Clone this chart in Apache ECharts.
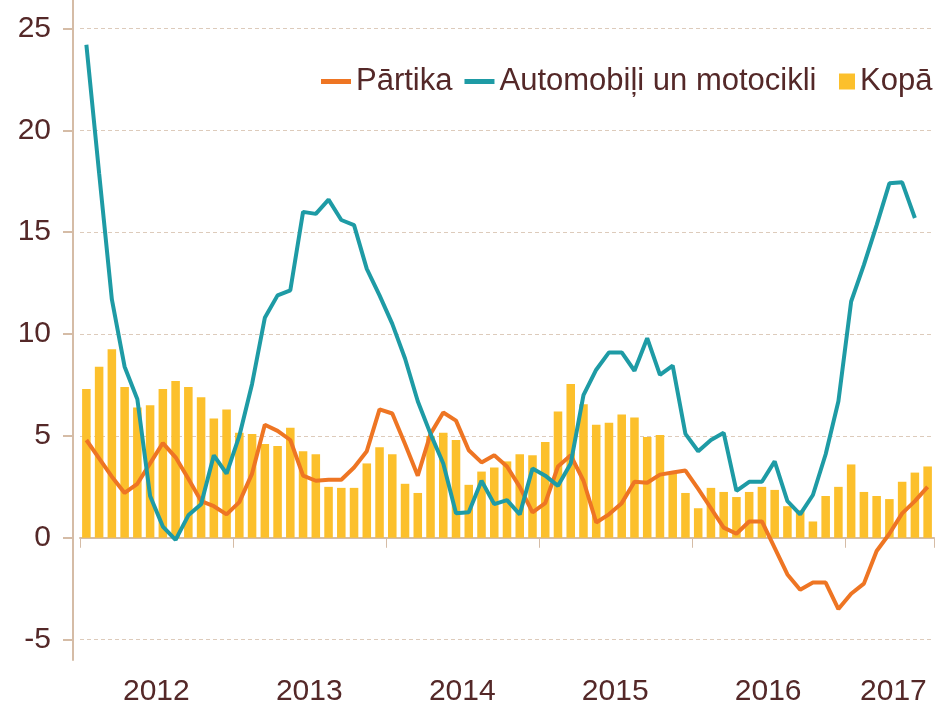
<!DOCTYPE html>
<html>
<head>
<meta charset="utf-8">
<script src="https://cdn.jsdelivr.net/npm/echarts@6/dist/echarts.min.js"></script>
<style>
  html, body { margin: 0; padding: 0; background: #ffffff; }
  #chart { width: 940px; height: 708px; }
</style>
</head>
<body>
<div id="chart"></div>
<script>
// Months Jan 2012 – Jul 2017
const years = [2012, 2013, 2014, 2015, 2016, 2017];
const categories = [];
years.forEach(function (y) {
  for (let m = 1; m <= 12; m++) {
    if (y === 2017 && m > 7) break;
    categories.push(y + '-' + (m < 10 ? '0' + m : m));
  }
});

const yTickValues = [-5, 0, 5, 10, 15, 20, 25];

// Kopā (bars)
const kopa = [7.3, 8.4, 9.25, 7.4, 6.4, 6.5, 7.3, 7.7, 7.4, 6.9,
  5.85, 6.3, 5.15, 5.1, 4.6, 4.5, 5.4, 4.25, 4.1, 2.5,
  2.45, 2.45, 3.65, 4.45, 4.1, 2.65, 2.2, 5.0, 5.15, 4.8,
  2.6, 3.25, 3.45, 3.75, 4.1, 4.05, 4.7, 6.2, 7.55, 6.55,
  5.55, 5.65, 6.05, 5.9, 4.95, 5.05, 3.2, 2.2, 1.45, 2.45,
  2.25, 2.0, 2.25, 2.5, 2.35, 1.55, 1.35, 0.8, 2.05, 2.5,
  3.6, 2.25, 2.05, 1.9, 2.75, 3.2, 3.5];

// Pārtika (orange line)
const partika = [4.8, 3.9, 3.0, 2.2, 2.65, 3.65, 4.65, 3.95, 2.9, 1.8,
  1.55, 1.15, 1.75, 3.15, 5.55, 5.25, 4.8, 3.05, 2.8, 2.85,
  2.85, 3.45, 4.25, 6.3, 6.1, 4.6, 3.05, 5.1, 6.15, 5.75,
  4.3, 3.7, 4.05, 3.5, 2.5, 1.25, 1.7, 3.5, 4.05, 2.8,
  0.75, 1.15, 1.7, 2.75, 2.7, 3.1, 3.2, 3.3, 2.4, 1.45,
  0.5, 0.2, 0.8, 0.8, -0.5, -1.8, -2.55, -2.2, -2.2, -3.5,
  -2.75, -2.25, -0.65, 0.2, 1.2, 1.8, 2.5];

// Automobiļi un motocikli (teal line), Jan 2012 – Jun 2017
const auto = [24.2, 17.9, 11.7, 8.4, 6.8, 2.05, 0.55, -0.1, 1.1, 1.65,
  4.05, 3.15, 5.0, 7.55, 10.8, 11.9, 12.15, 16.0, 15.9, 16.6,
  15.6, 15.35, 13.2, 11.9, 10.5, 8.8, 6.7, 5.1, 3.65, 1.2,
  1.25, 2.8, 1.65, 1.85, 1.15, 3.4, 3.05, 2.55, 3.65, 7.0,
  8.25, 9.1, 9.1, 8.2, 9.8, 8.0, 8.45, 5.1, 4.25, 4.8,
  5.15, 2.3, 2.75, 2.75, 3.75, 1.8, 1.15, 2.1, 4.1, 6.7,
  11.6, 13.4, 15.35, 17.4, 17.45, 15.7];

const textColor = '#542828';
const axisColor = '#d5bca6';
const gridColor = '#ddcbbb';
const fontFamily = '"Liberation Sans", Arial, sans-serif';
const lineIcon = 'path://M0,0H30V5H0Z';

const chart = echarts.init(document.getElementById('chart'), null, { renderer: 'canvas' });

chart.setOption({
  animation: false,
  backgroundColor: '#ffffff',
  textStyle: { fontFamily: fontFamily },
  grid: { left: 80, right: 6, top: 0, bottom: 48, containLabel: false },
  legend: [
    {
      data: [
        { name: 'Pārtika', icon: lineIcon },
        { name: 'Automobiļi un motocikli', icon: lineIcon }
      ],
      left: 316, top: 61,
      itemWidth: 30, itemHeight: 16, itemGap: 12,
      textStyle: { fontSize: 31, color: textColor, fontFamily: fontFamily }
    },
    {
      data: [{ name: 'Kopā', icon: 'rect' }],
      left: 834, top: 61,
      itemWidth: 16, itemHeight: 16,
      textStyle: { fontSize: 31, color: textColor, fontFamily: fontFamily }
    }
  ],
  xAxis: {
    type: 'category',
    data: categories,
    boundaryGap: true,
    axisLine: { show: true, lineStyle: { color: axisColor, width: 2 } },
    axisTick: {
      show: true,
      interval: function (i) { return i % 12 === 0; },
      length: 10,
      lineStyle: { color: axisColor, width: 1 }
    },
    axisLabel: {
      interval: function (i) { return i % 12 === 6 || i === 63; },
      margin: 17,
      color: textColor,
      fontSize: 30,
      formatter: function (v, i) {
        const y = v.slice(0, 4);
        return (i === 63 ? '{b|' : '{a|') + y + '}';
      },
      rich: {
        a: { fontSize: 30, color: textColor, fontFamily: fontFamily, padding: [0, 13, 0, 0] },
        b: { fontSize: 30, color: textColor, fontFamily: fontFamily, padding: [0, 0, 0, 8] }
      }
    },
    splitLine: { show: false }
  },
  yAxis: {
    type: 'value',
    min: -6,
    max: 26.4,
    offset: 7,
    axisLine: { show: true, lineStyle: { color: axisColor, width: 2 } },
    axisTick: { show: true, length: 10, customValues: yTickValues, lineStyle: { color: axisColor, width: 2 } },
    axisLabel: { customValues: yTickValues, margin: 22, color: textColor, fontSize: 30, fontFamily: fontFamily },
    splitLine: { show: true, lineStyle: { color: gridColor, type: [4, 3], width: 1 } }
  },
  series: [
    {
      name: 'Pārtika',
      type: 'line',
      data: partika,
      symbol: 'none',
      z: 3,
      lineStyle: { color: '#ee7523', width: 4 },
      itemStyle: { color: '#ee7523' }
    },
    {
      name: 'Automobiļi un motocikli',
      type: 'line',
      data: auto,
      symbol: 'none',
      z: 4,
      lineStyle: { color: '#1e9ba5', width: 4 },
      itemStyle: { color: '#1e9ba5' }
    },
    {
      name: 'Kopā',
      type: 'bar',
      data: kopa,
      z: 1,
      barWidth: '67%',
      itemStyle: { color: '#fcc02c' }
    }
  ]
});
</script>
</body>
</html>
